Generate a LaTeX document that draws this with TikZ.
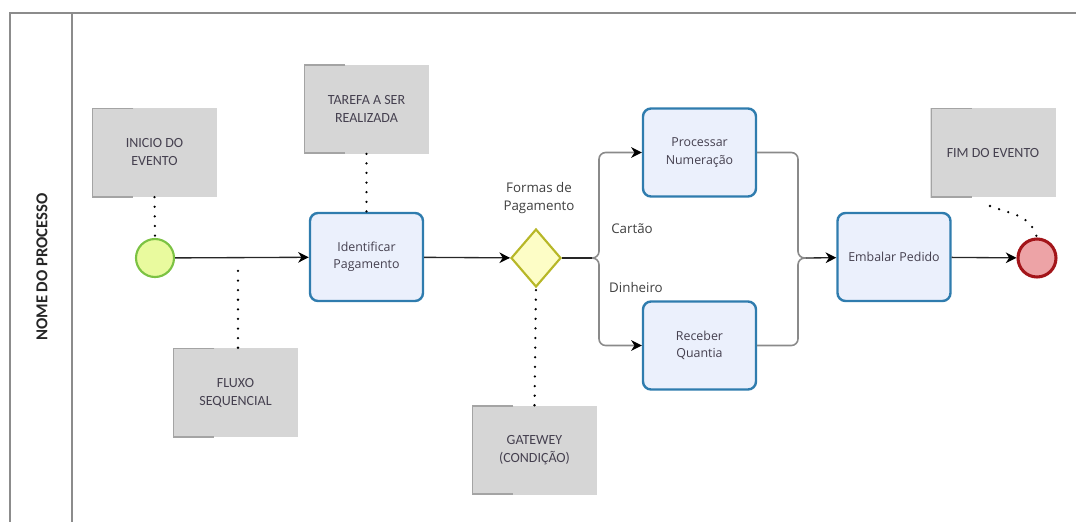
\documentclass[tikz,border=0pt]{standalone}
\usepackage{fontspec}
\setmainfont{Carlito}
\newfontfamily\uifont{Open Sans}
\usetikzlibrary{arrows.meta,shapes.geometric}

\definecolor{notefill}{HTML}{D6D6D6}
\definecolor{noteedge}{HTML}{A4A4A4}
\definecolor{taskfill}{HTML}{EBF0FC}
\definecolor{taskedge}{HTML}{2F7CAE}
\definecolor{startfill}{HTML}{E9FA9E}
\definecolor{startedge}{HTML}{7CC243}
\definecolor{endfill}{HTML}{EDA3A6}
\definecolor{endedge}{HTML}{A3151A}
\definecolor{gwfill}{HTML}{FDFDC6}
\definecolor{gwedge}{HTML}{B7B727}
\definecolor{txt}{HTML}{45404F}
\definecolor{branchgray}{HTML}{8A8A8A}
\definecolor{framegray}{HTML}{8C8C8C}

\begin{document}
\begin{tikzpicture}[x=0.75pt,y=-0.75pt,
  note/.style={fill=notefill, minimum width=93.75pt, minimum height=66.75pt,
    inner sep=0pt, align=center, text=txt, font=\fontsize{10.5}{13.5}\selectfont,
    path picture={\draw[noteedge,line width=2pt]
      ([xshift=31pt]path picture bounding box.north west)
      -| (path picture bounding box.south west) -- ++(31pt,0);}},
  task/.style={draw=taskedge, line width=1.8pt, fill=taskfill, rounded corners=6pt,
    minimum width=84.75pt, minimum height=66pt, inner sep=0pt, align=center,
    text=txt, font=\uifont\fontsize{9.3}{13}\selectfont},
  startev/.style={circle, draw=startedge, line width=1.6pt, fill=startfill,
    minimum size=28.5pt, inner sep=0pt},
  endev/.style={circle, draw=endedge, line width=2.3pt, fill=endfill,
    minimum size=28.5pt, inner sep=0pt},
  gateway/.style={diamond, draw=gwedge, line width=1.6pt, fill=gwfill,
    minimum width=37.5pt, minimum height=43.5pt, inner sep=0pt},
  flowtip/.style={-{Stealth[length=8pt,width=8pt,inset=2.5pt,color=black]}},
  flow/.style={draw=black!85, line width=1pt, flowtip},
  branch/.style={draw=branchgray, line width=1.2pt, rounded corners=5pt},
  assoc/.style={draw=black, line width=1.9pt, line cap=round,
    dash pattern=on 0pt off 7.2pt},
  lbl/.style={text=black!75, font=\uifont\fontsize{10}{13.5}\selectfont, align=center, inner sep=0pt},
  frame/.style={draw=framegray, line width=1.5pt}
]
\useasboundingbox (0,0) rectangle (1076,522);

% pool frame and lane header
\draw[frame] (1076,12.5) -- (10,12.5) -- (10,522);
\draw[frame] (72,12.5) -- (72,522);
\node[rotate=90, font=\bfseries\fontsize{12.5}{14}\selectfont, text=black!85] (lane) at (42,267) {NOME DO PROCESSO};

% flow elements
\node[startev] (start) at (155,258) {};
\node[task] (ident) at (366.5,257) {Identificar\\Pagamento};
\node[gateway] (gw) at (536,258) {};
\node[lbl] (gwlbl) at (539,198) {Formas de\\Pagamento};
\node[task] (proc) at (699.5,152.5) {Processar\\Numeração};
\node[task] (rec) at (699.5,345.5) {Receber\\Quantia};
\node[task] (emb) at (894,257) {Embalar Pedido};
\node[endev] (end) at (1037,258) {};

% annotations
\node[note] (nstart) at (154.5,152.5) {INICIO DO\\EVENTO};
\node[note] (ntask) at (366.5,109) {TAREFA A SER\\REALIZADA};
\node[note] (nflow) at (235.5,392.5) {FLUXO\\SEQUENCIAL};
\node[note] (ngw) at (534.5,450) {GATEWEY\\(CONDIÇÃO)};
\node[note] (nend) at (993,152.5) {FIM DO EVENTO};

% split and join points
\coordinate (split) at (592,258);
\coordinate (join) at (806,258);
\coordinate (flowpt) at (238,262);

% sequence flows
\draw[flow] (start) -- (ident);
\draw[flow] (ident) -- (gw);
\draw[draw=black!85, line width=1pt] (gw.east) -- (split);
\draw[branch, flowtip] (split) -| (599,152.5) -- (proc.west);
\draw[branch, flowtip] (split) -| (599,345.5) -- (rec.west);
\draw[branch] (proc.east) -| (798,258) -- (join);
\draw[branch] (rec.east) -| (798,258) -- (join);
\draw[flow] (join) -- (emb);
\draw[flow] (emb) -- (end);

% branch labels
\node[lbl] (cartao) at (632,229) {Cartão};
\node[lbl] (dinheiro) at (636,287) {Dinheiro};

% associations
\draw[assoc] (nstart.south) ++(0,-0.1) -- (start.north);
\draw[assoc] (ntask.south) -- (ident.north);
\draw[assoc] (nflow.north -| flowpt) -- (flowpt);
\draw[assoc] (ngw.north) -- (gw.south);
\draw[assoc] (990,206) .. controls (1010,214) and (1030,214) .. (end.north);
\end{tikzpicture}
\end{document}
